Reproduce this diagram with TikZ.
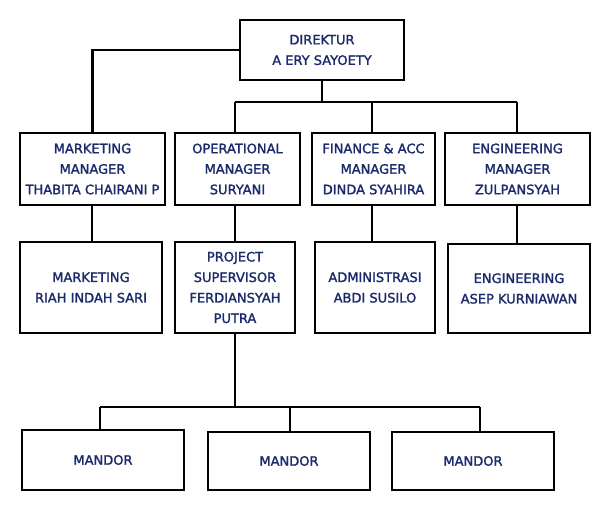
\documentclass[tikz,border=0pt]{standalone}
\usepackage{fontspec}
\setmainfont{DejaVu Sans}[FakeBold=1.2]
\newfontfamily\lblfont{DejaVu Sans}[FakeBold=1.6]
\definecolor{txt}{HTML}{1B2A6B}
\begin{document}
\begin{tikzpicture}[x=1pt,y=-1pt,
  lbl/.style={text=txt,font=\lblfont\fontsize{13}{20.5}\selectfont,align=center},
  ln/.style={line width=2.5pt}]
\useasboundingbox (0,0) rectangle (613,513);
\fill[white] (0,0) rectangle (613,513);
\newcommand{\bx}[6]{%
 \draw[line width=2pt] (#1,#2) rectangle (#3,#4);
 \node[lbl] (#5) at ({(#1+#3)/2},{(#2+#4)/2}) {#6};
 \coordinate (#5t) at ({(#1+#3)/2},#2);
 \coordinate (#5b) at ({(#1+#3)/2},#4);}
\bx{240}{20}{404}{80}{dir}{DIREKTUR\\A ERY SAYOETY}
\bx{20}{133}{165}{205}{mm}{MARKETING\\MANAGER\\THABITA CHAIRANI P}
\bx{175}{133}{300}{205}{om}{OPERATIONAL\\MANAGER\\SURYANI}
\bx{312}{133}{435}{205}{fm}{FINANCE \& ACC\\MANAGER\\DINDA SYAHIRA}
\bx{445}{133}{590}{205}{em}{ENGINEERING\\MANAGER\\ZULPANSYAH}
\bx{20}{242}{162}{333}{mk}{MARKETING\\RIAH INDAH SARI}
\bx{175}{242}{295}{333}{ps}{PROJECT\\SUPERVISOR\\FERDIANSYAH\\PUTRA}
\bx{315}{242}{435}{333}{ad}{ADMINISTRASI\\ABDI SUSILO}
\bx{448}{244}{590}{333}{en}{ENGINEERING\\ASEP KURNIAWAN}
\bx{22}{430}{184}{490}{m1}{MANDOR}
\bx{208}{432}{370}{490}{m2}{MANDOR}
\bx{392}{432}{554}{490}{m3}{MANDOR}
\draw[ln] (240,50) -| (mmt);
\draw[ln] (dirb) -- (322,102);
\draw[ln] (235,102) -- (517,102);
\draw[ln] (235,102) -- (235,133);
\draw[ln] (372,102) -- (372,133);
\draw[ln] (517,102) -- (517,133);
\draw[ln] (92,205) -- (92,242);
\draw[ln] (235,205) -- (235,242);
\draw[ln] (372,205) -- (372,242);
\draw[ln] (517,205) -- (517,244);
\draw[ln] (psb) -- (235,407);
\draw[ln] (100,407) -- (480,407);
\draw[ln] (100,407) -- (100,430);
\draw[ln] (290,407) -- (290,432);
\draw[ln] (480,407) -- (480,432);
\end{tikzpicture}
\end{document}
